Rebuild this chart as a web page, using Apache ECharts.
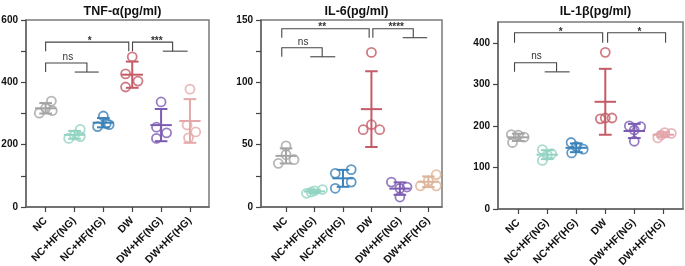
<!DOCTYPE html>
<html>
<head>
<meta charset="utf-8">
<script src="https://cdn.jsdelivr.net/npm/echarts@6/dist/echarts.min.js"></script>
<style>
html,body{margin:0;padding:0;background:#fff;}
#chart{width:685px;height:266px;}
</style>
</head>
<body>
<div id="chart"></div>
<script>
// ---- data ----
const categories = ['NC', 'NC+HF(NG)', 'NC+HF(HG)', 'DW', 'DW+HF(NG)', 'DW+HF(HG)'];
const titles = ['TNF-α(pg/ml)', 'IL-6(pg/ml)', 'IL-1β(pg/ml)'];

const tnfValues = [[301, 340, 317, 309], [220, 226, 231, 249], [292, 268, 264, 258], [482, 427, 404, 385], [337, 256, 238, 220], [378, 263, 241, 222]];
const il6Values = [[49, 35, 38, 42], [11, 13, 14, 12], [27, 30, 15, 20], [124, 62, 66, 62], [20, 16, 15, 8], [26, 21, 17, 17]];
const il1bValues = [[179, 160, 173, 178], [143, 117, 133, 130], [160, 144, 135, 150], [377, 217, 219, 219], [200, 198, 190, 163], [171, 184, 182, 178]];

const tnfTicks = [0, 100, 200, 300, 400, 500, 600];
const tnfTickLabels = [0, 200, 400, 600];
const il6Ticks = [0, 25, 50, 75, 100, 125, 150];
const il6TickLabels = [0, 50, 100, 150];
const il1bTicks = [0, 100, 200, 300, 400];
const il1bTickLabels = [0, 100, 200, 300, 400];

// significance annotations: [from, to, topValue, legValue, hookFrom, hookTo, labelAt, label]
const tnfSig = [[0, 2.88, 529, 500, null, null, 1.53, '*'], [3.01, 4.4, 529, 500, 4.06, 4.92, 3.85, '***'], [0, 1.43, 462, 433, 1.01, 1.84, 0.77, 'ns']];
const il6Sig = [[-0.15, 2.92, 143, 135.8, null, null, 1.27, '**'], [3.05, 4.47, 143, 135.8, 4.1, 4.96, 3.87, '****'], [-0.15, 1.27, 127.7, 120.5, 0.85, 1.73, 0.6, 'ns']];
const il1bSig = [[-0.13, 2.91, 424, 400, null, null, 1.46, '*'], [3.08, 5.08, 424, 400, null, null, 4.18, '*'], [-0.13, 1.32, 352, 330, 0.91, 1.77, 0.63, 'ns']];

// ---- layout / style (not data) ----
const tnfJitter = [[-0.22, 0.2, 0, 0.23], [-0.2, 0.2, 0, 0.2], [0, 0.1, 0.2, -0.2], [0, -0.23, 0.2, -0.23], [0, -0.16, 0.19, -0.16], [0, -0.1, 0.2, -0.05]];
const il6Jitter = [[0, -0.27, 0.28, 0], [-0.28, 0, 0.28, -0.12], [-0.27, 0.29, -0.27, 0.29], [0, -0.29, 0, 0.29], [-0.3, 0.25, 0, 0], [0.28, 0, -0.28, 0.28]];
const il1bJitter = [[-0.24, -0.2, 0.2, 0], [-0.17, -0.17, 0.15, 0], [-0.18, 0.24, -0.16, 0], [0, -0.17, 0.23, 0], [-0.17, 0.22, 0, 0], [-0.19, 0.05, 0.28, -0.07]];

const baseColors = ['#a4a4a4', '#93d3c2', '#3b82b9', '#c45b66', '#7c5cb2'];
const panelColors = [baseColors.concat(['#e3a9aa']), baseColors.concat(['#dcb497']), baseColors.concat(['#e2a4aa'])];

const FONT = 'Liberation Sans, Arial, Helvetica, sans-serif';
const panels = [
  {values: tnfValues, jitter: tnfJitter, ticks: tnfTicks, labels: tnfTickLabels, sig: tnfSig, max: 600, xmin: -0.68, xmax: 5.66,
   grid: {left: 26, top: 20, width: 183, height: 187}},
  {values: il6Values, jitter: il6Jitter, ticks: il6Ticks, labels: il6TickLabels, sig: il6Sig, max: 150, xmin: -0.88, xmax: 5.48,
   grid: {left: 261, top: 20, width: 181, height: 187}},
  {values: il1bValues, jitter: il1bJitter, ticks: il1bTicks, labels: il1bTickLabels, sig: il1bSig, max: 450, xmin: -0.7, xmax: 5.68,
   grid: {left: 498, top: 22, width: 185, height: 187}}
];

function meanSd(arr) {
  const m = arr.reduce((a, b) => a + b, 0) / arr.length;
  const v = arr.reduce((a, b) => a + (b - m) * (b - m), 0) / (arr.length - 1);
  return [m, Math.sqrt(v)];
}

const grids = [], xAxes = [], yAxes = [], series = [], titleOpts = [];
const AX = '#666';

panels.forEach((p, pi) => {
  grids.push(Object.assign({show: true, borderColor: '#7a7a7a', borderWidth: 1.5, backgroundColor: 'transparent',
    containLabel: false, outerBoundsMode: 'none'}, p.grid));
  titleOpts.push({text: titles[pi], left: p.grid.left + p.grid.width / 2, top: 0, textAlign: 'center',
    textStyle: {fontFamily: FONT, fontSize: 12.5, fontWeight: 'bold', color: '#111'}});
  xAxes.push({type: 'value', gridIndex: pi, min: p.xmin, max: p.xmax,
    axisLine: {show: true, onZero: false, lineStyle: {color: AX, width: 1.5}},
    axisTick: {show: true, customValues: categories.map((c, i) => i), length: 5, lineStyle: {color: '#444', width: 1.2}},
    axisLabel: {customValues: categories.map((c, i) => i), formatter: v => categories[Math.round(v)] || '',
      rotate: 45, fontFamily: FONT, fontSize: 10.5, fontWeight: 'bold', color: '#111', margin: 12},
    splitLine: {show: false}});
  yAxes.push({type: 'value', gridIndex: pi, min: 0, max: p.max,
    axisLine: {show: true, onZero: false, lineStyle: {color: AX, width: 1.5}},
    axisTick: {show: true, customValues: p.ticks, length: 5, lineStyle: {color: '#444', width: 1.2}},
    axisLabel: {customValues: p.labels, fontFamily: FONT, fontSize: 10, fontWeight: 'bold', color: '#111', margin: 8},
    splitLine: {show: false}});

  const colors = panelColors[pi];
  // points
  p.values.forEach((grp, gi) => {
    series.push({type: 'scatter', xAxisIndex: pi, yAxisIndex: pi, symbol: 'circle', symbolSize: 9,
      itemStyle: {color: 'rgba(255,255,255,0)', borderColor: colors[gi], borderWidth: 1.8},
      data: grp.map((v, k) => [gi + p.jitter[gi][k], v]), z: 3, silent: true});
  });
  // mean ± SD
  const stats = p.values.map((grp, gi) => { const s = meanSd(grp); return [gi, s[0], s[1]]; });
  series.push({type: 'custom', xAxisIndex: pi, yAxisIndex: pi, z: 4, silent: true,
    data: stats,
    renderItem: (params, api) => {
      const x = api.value(0), m = api.value(1), s = api.value(2);
      const c = api.coord([x, m]);
      const t = api.coord([x, m + s]);
      const b = api.coord([x, Math.max(0, m - s)]);
      const hm = api.size([0.37, 0])[0];
      const hc = api.size([0.22, 0])[0];
      const st = {stroke: colors[params.dataIndex], lineWidth: 2, fill: null};
      return {type: 'group', children: [
        {type: 'line', shape: {x1: c[0], y1: t[1], x2: c[0], y2: b[1]}, style: st},
        {type: 'line', shape: {x1: c[0] - hm, y1: c[1], x2: c[0] + hm, y2: c[1]}, style: st},
        {type: 'line', shape: {x1: c[0] - hc, y1: t[1], x2: c[0] + hc, y2: t[1]}, style: st},
        {type: 'line', shape: {x1: c[0] - hc, y1: b[1], x2: c[0] + hc, y2: b[1]}, style: st}
      ]};
    }});
  // significance brackets
  series.push({type: 'custom', xAxisIndex: pi, yAxisIndex: pi, z: 5, silent: true,
    data: p.sig.map((s, k) => [s[0], s[2], k]),
    renderItem: (params, api) => {
      const s = p.sig[params.dataIndex];
      const a = api.coord([s[0], s[2]]);
      const bb = api.coord([s[1], s[3]]);
      const lst = {stroke: '#444', lineWidth: 1.1, fill: null};
      const children = [
        {type: 'polyline', shape: {points: [[a[0], bb[1]], [a[0], a[1]], [bb[0], a[1]], [bb[0], bb[1]]]}, style: lst}
      ];
      if (s[4] !== null) {
        const h1 = api.coord([s[4], s[3]]), h2 = api.coord([s[5], s[3]]);
        children.push({type: 'line', shape: {x1: h1[0], y1: h1[1], x2: h2[0], y2: h2[1]}, style: lst});
      }
      const lp = api.coord([s[6], s[2]]);
      const isStar = s[7].indexOf('*') >= 0;
      children.push({type: 'text', x: lp[0], y: lp[1] - (isStar ? 1 : 6),
        style: {text: s[7], fill: '#333', font: (isStar ? 'bold 10px ' : '10px ') + FONT, textAlign: 'center', textVerticalAlign: 'middle'}});
      return {type: 'group', children};
    }});
});

const chart = echarts.init(document.getElementById('chart'), null, {renderer: 'canvas'});
chart.setOption({animation: false, backgroundColor: '#fff', title: titleOpts, grid: grids, xAxis: xAxes, yAxis: yAxes, series});
</script>
</body>
</html>
